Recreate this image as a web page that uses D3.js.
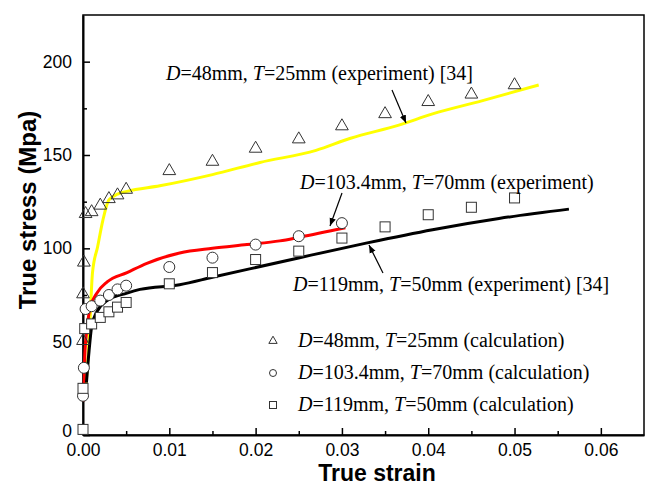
<!DOCTYPE html>
<html lang="en">
<head>
  <meta charset="UTF-8">
  <title>True stress vs true strain</title>
  <style>
    body { margin: 0; background: #fff; }
    .tick text { font-family: "Liberation Sans", Arial, sans-serif; font-size: 17.5px; fill: #000; }
    .note { font-family: "Liberation Serif", "Times New Roman", serif; font-size: 20px; fill: #000; }
  </style>
</head>
<body>
  <svg id="svg" width="648" height="486"></svg>

  <script src="https://d3js.org/d3.v7.min.js"></script>
  <script>
    // experiment curves [strain, stress]
    const yellowLine = [[0.0003,26],[0.0005,36],[0.0007,51],[0.0008,60],[0.0011,87],[0.0017,101],[0.0023,115],[0.003,126],[0.004,129],[0.0051,130.5],[0.0089,133.5],[0.015,139.5],[0.0205,146],[0.027,152.5],[0.031,159],[0.0366,166],[0.0405,172],[0.0462,179],[0.0528,187.5]]
    const redLine = [[0,18],[0.0001,22],[0.0002,42],[0.0005,58],[0.0008,68],[0.0016,76],[0.0028,82],[0.0051,87],[0.0074,92],[0.0112,97.5],[0.015,100],[0.019,102],[0.0228,104],[0.0251,106],[0.0304,111]]
    const blackLine = [[0.0004,28],[0.0007,45],[0.001,58],[0.0016,66],[0.0028,72],[0.0051,76],[0.0066,78],[0.0112,80.5],[0.015,84.5],[0.0193,89],[0.0251,95],[0.0328,102.8],[0.0405,110],[0.0482,116],[0.0563,121]]

    // calculation points
    const triangles = [[0,51],[0,76],[0.0001,93],[0.0003,119],[0.001,120],[0.002,123.5],[0.003,127],[0.004,129],[0.005,132],[0.01,142],[0.015,147],[0.02,154],[0.025,159],[0.03,166],[0.035,172.5],[0.04,179],[0.045,183],[0.05,188]]
    const circles = [[0,21],[0.0001,36],[0.0003,67.5],[0.001,69],[0.002,72],[0.003,75],[0.004,78],[0.005,80],[0.01,90],[0.015,95],[0.02,102],[0.025,106.5],[0.03,113.5]]
    const squares = [[0,3],[0,25],[0.0002,57],[0.001,59.5],[0.002,63],[0.003,66],[0.004,68.5],[0.005,71],[0.01,81],[0.015,87],[0.02,94],[0.025,98.5],[0.03,105.5],[0.035,111.5],[0.04,118],[0.045,122],[0.05,127]]

    const xTicks = [0, 0.01, 0.02, 0.03, 0.04, 0.05, 0.06]
    const yTicks = [0, 50, 100, 150, 200]

    const margin = { top: 15, right: 4, bottom: 51, left: 83 }
    const width = 648 - margin.left - margin.right
    const height = 486 - margin.top - margin.bottom

    const svg = d3.select('#svg')
    const g = svg.append('g').attr('transform', `translate(${margin.left}, ${margin.top})`)

    const x = d3.scaleLinear().domain([0, 0.065]).range([0, width])
    const y = d3.scaleLinear().domain([0, 225]).range([height, 0])

    // frame
    g.append('rect')
      .attr('width', width).attr('height', height)
      .attr('fill', 'none').attr('stroke', '#000').attr('stroke-width', 1.5)

    // minor ticks
    const xMinor = d3.range(0.005, 0.065, 0.01)
    const yMinor = [25, 75, 125, 175]

    const bottomAxis = d3.axisBottom(x).tickValues(xTicks).tickFormat(d3.format('.2f'))
      .tickSizeInner(-7).tickSizeOuter(0).tickPadding(9)
    g.append('g').attr('transform', `translate(0, ${height})`).call(bottomAxis)
    g.append('g').attr('transform', `translate(0, ${height})`)
      .call(d3.axisBottom(x).tickValues(xMinor).tickSizeInner(-4).tickSizeOuter(0).tickFormat(''))
      .select('.domain').remove()

    const leftAxis = d3.axisLeft(y).tickValues(yTicks)
      .tickSizeInner(-7).tickSizeOuter(0).tickPadding(11)
    const yg = g.append('g').call(leftAxis)
    // keep the "0" clear of the "0.00" below it
    yg.selectAll('.tick text').filter(d => d === 0).attr('dy', '0.08em')
    g.append('g')
      .call(d3.axisLeft(y).tickValues(yMinor).tickSizeInner(-4).tickSizeOuter(0).tickFormat(''))
      .select('.domain').remove()

    g.selectAll('.domain').attr('stroke-width', 2)
    g.selectAll('.tick line').attr('stroke-width', 1.5)

    // axis titles
    svg.append('text')
      .attr('x', 377).attr('y', 481)
      .attr('text-anchor', 'middle')
      .style('font-family', '"Liberation Sans", Arial, sans-serif')
      .style('font-size', '23px').style('font-weight', 'bold')
      .text('True strain')
    svg.append('text')
      .attr('transform', 'translate(36, 210) rotate(-90)')
      .attr('text-anchor', 'middle')
      .style('font-family', '"Liberation Sans", Arial, sans-serif')
      .style('font-size', '24px').style('font-weight', 'bold')
      .text('True stress (Mpa)')

    // experiment lines
    const line = d3.line().x(d => x(d[0])).y(d => y(d[1])).curve(d3.curveMonotoneX)
    const plot = g.append('g')
    plot.append('path').datum(yellowLine).attr('d', line)
      .attr('fill', 'none').attr('stroke', '#ffff00').attr('stroke-width', 3)
    plot.append('path').datum(redLine).attr('d', line)
      .attr('fill', 'none').attr('stroke', '#ff0000').attr('stroke-width', 3)
    plot.append('path').datum(blackLine).attr('d', line)
      .attr('fill', 'none').attr('stroke', '#000').attr('stroke-width', 3)

    // markers
    const markerStroke = '#333'
    const tri = d3.symbol().type(d3.symbolTriangle).size(70)
    plot.selectAll('.tri').data(triangles).enter().append('path')
      .attr('d', tri)
      .attr('transform', d => `translate(${x(d[0])}, ${y(d[1]) + 1})`)
      .attr('fill', 'none').attr('stroke', markerStroke).attr('stroke-width', 1)
    plot.selectAll('.circ').data(circles).enter().append('circle')
      .attr('cx', d => x(d[0])).attr('cy', d => y(d[1])).attr('r', 5.5)
      .attr('fill', '#fff').attr('stroke', markerStroke).attr('stroke-width', 1)
    plot.selectAll('.sq').data(squares).enter().append('rect')
      .attr('x', d => x(d[0]) - 5).attr('y', d => y(d[1]) - 5)
      .attr('width', 10).attr('height', 10)
      .attr('fill', '#fff').attr('stroke', markerStroke).attr('stroke-width', 1)

    // annotations
    function note(px, py, parts) {
      const t = svg.append('text').attr('class', 'note').attr('x', px).attr('y', py)
      parts.forEach(p => {
        t.append('tspan').attr('font-style', p[1] ? 'italic' : 'normal').text(p[0])
      })
    }
    note(166, 80, [['D', 1], ['=48mm, ', 0], ['T', 1], ['=25mm (experiment) [34]', 0]])
    note(300, 189, [['D', 1], ['=103.4mm, ', 0], ['T', 1], ['=70mm (experiment)', 0]])
    note(293, 291, [['D', 1], ['=119mm, ', 0], ['T', 1], ['=50mm (experiment) [34]', 0]])

    // arrows
    const defs = svg.append('defs')
    defs.append('marker').attr('id', 'arr').attr('viewBox', '0 0 10 10')
      .attr('refX', 10).attr('refY', 5).attr('markerWidth', 8).attr('markerHeight', 8)
      .attr('markerUnits', 'userSpaceOnUse').attr('orient', 'auto')
      .append('path').attr('d', 'M0,1 L10,5 L0,9 Z').attr('fill', '#000')
    const arrows = [[392, 90, 406, 123], [342, 193, 330, 226], [383, 273, 369, 245]]
    svg.selectAll('.arrow').data(arrows).enter().append('line')
      .attr('x1', d => d[0]).attr('y1', d => d[1]).attr('x2', d => d[2]).attr('y2', d => d[3])
      .attr('stroke', '#000').attr('stroke-width', 1.2).attr('marker-end', 'url(#arr)')

    // legend
    const legend = svg.append('g')
    legend.append('path').attr('d', d3.symbol().type(d3.symbolTriangle).size(30))
      .attr('transform', 'translate(273, 341)')
      .attr('fill', 'none').attr('stroke', markerStroke)
    legend.append('circle').attr('cx', 273).attr('cy', 373).attr('r', 3.5)
      .attr('fill', 'none').attr('stroke', markerStroke)
    legend.append('rect').attr('x', 269.5).attr('y', 401.5).attr('width', 7).attr('height', 7)
      .attr('fill', 'none').attr('stroke', markerStroke)
    note(298, 347, [['D', 1], ['=48mm, ', 0], ['T', 1], ['=25mm (calculation)', 0]])
    note(298, 379, [['D', 1], ['=103.4mm, ', 0], ['T', 1], ['=70mm (calculation)', 0]])
    note(298, 411, [['D', 1], ['=119mm, ', 0], ['T', 1], ['=50mm (calculation)', 0]])
  </script>
</body>
</html>
